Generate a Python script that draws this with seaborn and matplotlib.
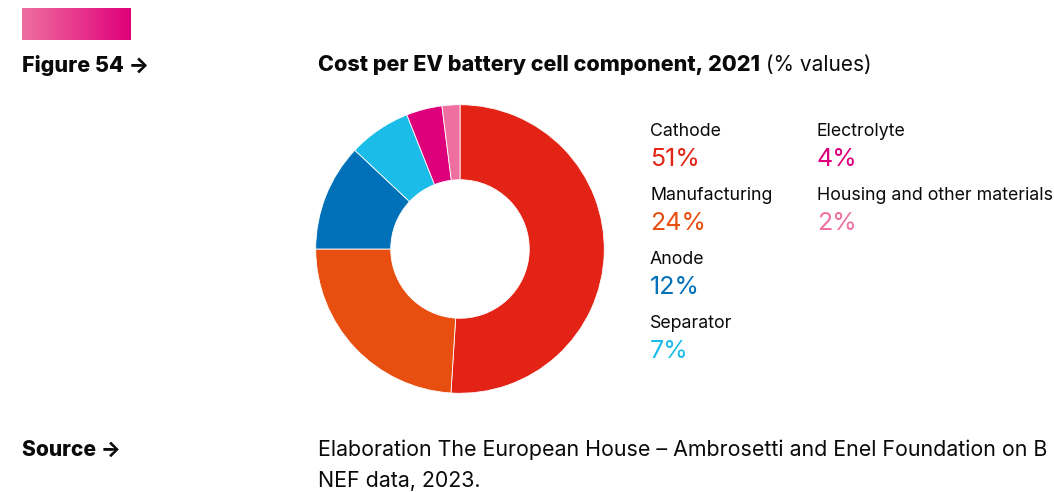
import matplotlib
matplotlib.use("Agg")
import matplotlib.pyplot as plt
import numpy as np
import seaborn as sns

# data
components = ["Cathode", "Manufacturing", "Anode", "Separator", "Electrolyte",
              "Housing and other materials"]
shares = [51, 24, 12, 7, 4, 2]
colors = ["#E32315", "#E84E0F", "#0070B8", "#1BBCE8", "#DE007B", "#EE6FA0"]

W, H = 1054, 492

sns.set_theme(style="white")
plt.rcParams["font.family"] = ["Inter", "DejaVu Sans"]
plt.rcParams["text.color"] = "#0a0a0a"

fig = plt.figure(figsize=(W / 100, H / 100), dpi=100)


def px(x, y):
    return x / W, 1 - y / H


# gradient header bar
grad_ax = fig.add_axes([22 / W, 1 - 40 / H, 109 / W, 32 / H])
grad = np.linspace(0, 1, 256).reshape(1, -1)
cmap = matplotlib.colors.LinearSegmentedColormap.from_list("hdr", ["#EE6FA0", "#E0007A"])
grad_ax.imshow(grad, aspect="auto", cmap=cmap)
grad_ax.axis("off")

# donut
ax = fig.add_axes([315 / W, 1 - 394 / H, 290 / W, 290 / H])
palette = sns.color_palette(colors)
ax.pie(shares, colors=palette, startangle=90, counterclock=False, radius=1,
       wedgeprops=dict(width=0.52, edgecolor="white", linewidth=0.6))
ax.set_xlim(-1.005, 1.005)
ax.set_ylim(-1.005, 1.005)
ax.set_aspect("equal")
ax.axis("off")

# headings
fig.text(*px(22, 65), "Figure 54 →", fontsize=15.5, fontweight="heavy", va="center", ha="left")
t = fig.text(*px(318, 65), "Cost per EV battery cell component, 2021", fontsize=15.5,
             fontweight="heavy", va="center", ha="left")
fig.canvas.draw()
plt.annotate(" (% values)", xy=(1, 0), xycoords=t, va="bottom", ha="left",
             fontsize=15, annotation_clip=False)

# legend-like labels
label_pos = [(650, 131), (650, 195), (650, 259), (650, 323), (817, 131), (817, 195)]
for name, val, col, (x, y) in zip(components, shares, colors, label_pos):
    fig.text(*px(x, y), name, fontsize=12.8, va="center", ha="left")
    fig.text(*px(x, y + 28), f"{val}%", fontsize=18, color=col, va="center", ha="left")

# source
fig.text(*px(22, 450), "Source →", fontsize=15.2, fontweight="heavy", va="center", ha="left")
fig.text(*px(318, 450), "Elaboration The European House – Ambrosetti and Enel Foundation on B",
         fontsize=15.4, va="center", ha="left")
fig.text(*px(318, 481), "NEF data, 2023.", fontsize=15.4, va="center", ha="left")

fig.savefig("out.png", dpi=100, facecolor="white")
